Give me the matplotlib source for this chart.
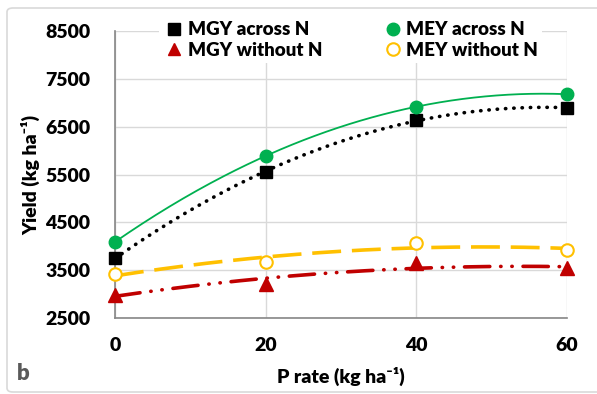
import numpy as np
import matplotlib
matplotlib.use("Agg")
import matplotlib.pyplot as plt
from matplotlib.lines import Line2D
from matplotlib.patches import FancyBboxPatch

plt.rcParams["font.family"] = ["Lato", "DejaVu Sans"]
plt.rcParams["font.weight"] = "bold"

# data
p_rate = [0, 20, 40, 60]
mgy_across = [3750, 5550, 6640, 6890]
mey_across = [4090, 5890, 6915, 7180]
mgy_without = [2990, 3220, 3650, 3535]
mey_without = [3416, 3670, 4070, 3920]
y_ticks = [2500, 3500, 4500, 5500, 6500, 7500, 8500]

fig = plt.figure(figsize=(5.97, 3.94), dpi=100)
ax = fig.add_axes([115 / 597, 1 - 318 / 394, 452 / 597, 287 / 394])

# outer chart border
fig.patches.append(FancyBboxPatch(
    (7 / 597, 2 / 394), 600 / 597, 384 / 394, boxstyle="round,pad=0,rounding_size=0.01",
    transform=fig.transFigure, fill=False, edgecolor="#d9d9d9", linewidth=1.2))

xs = np.linspace(0, 60, 200)


def trend(y):
    c = np.polyfit(p_rate, y, 2)
    return np.polyval(c, xs)


ax.plot(xs, trend(mey_across), color="#00b050", lw=1.3, zorder=3)
ax.plot(xs, trend(mgy_across), color="black", lw=2.6, linestyle=(0, (0.1, 2.2)),
        dash_capstyle="round", zorder=3)
ax.plot(xs, trend(mey_without), color="#ffc000", lw=2.6, linestyle=(0, (8, 3)), zorder=3)
ax.plot(xs, trend(mgy_without), color="#c00000", lw=2.6,
        linestyle=(0, (7, 3, 0.1, 3, 0.1, 3)), dash_capstyle="round", zorder=3)

ax.plot(p_rate, mgy_across, "s", color="black", ms=9, zorder=4, clip_on=False)
ax.plot(p_rate, mey_across, "o", color="#00b050", ms=9, zorder=4, clip_on=False)
ax.plot(p_rate, mgy_without, "^", color="#c00000", ms=9.5, zorder=4, clip_on=False)
ax.plot(p_rate, mey_without, "o", mfc="white", mec="#ffc000", mew=1.5, ms=9,
        zorder=4, clip_on=False)

ax.set_xlim(0, 60)
ax.set_ylim(2500, 8500)
ax.set_xticks(p_rate)
ax.set_yticks(y_ticks)
ax.tick_params(length=0, labelsize=14)
ax.tick_params(axis="y", pad=18)
ax.tick_params(axis="x", pad=14)
for lab in ax.get_xticklabels() + ax.get_yticklabels():
    lab.set_fontweight("heavy")
ax.grid(True, color="#d9d9d9", lw=1)
ax.set_axisbelow(True)
for s in ("top", "right"):
    ax.spines[s].set_visible(False)
for s in ("left", "bottom"):
    ax.spines[s].set_color("#868686")
    ax.spines[s].set_linewidth(1.2)

ax.set_xlabel("P rate (kg ha\u207b\u00b9)", fontsize=14, fontweight="heavy", labelpad=9)
ax.set_ylabel("Yield (kg ha\u207b\u00b9)", fontsize=14, fontweight="heavy", labelpad=3)

handles = [
    Line2D([], [], marker="s", color="black", ls="none", ms=9),
    Line2D([], [], marker="^", color="#c00000", ls="none", ms=9),
    Line2D([], [], marker="o", color="#00b050", ls="none", ms=9),
    Line2D([], [], marker="o", mfc="white", mec="#ffc000", mew=1.5, ls="none", ms=9),
]
labels = ["MGY across N", "MGY without N", "MEY across N", "MEY without N"]
leg = fig.legend(handles, labels, ncol=2, loc="upper left",
                 bbox_to_anchor=(150 / 597, 1 - 8 / 394), frameon=True,
                 facecolor="white", edgecolor="none", framealpha=1,
                 prop={"size": 13.5, "weight": "heavy"}, handletextpad=0.1,
                 columnspacing=3.2, labelspacing=0.2, borderpad=0.2,
                 handlelength=1.2)

fig.text(17 / 597, 1 - 380 / 394, "b", fontsize=16, fontweight="heavy", color="#595959")

fig.savefig("out.png", dpi=100)
